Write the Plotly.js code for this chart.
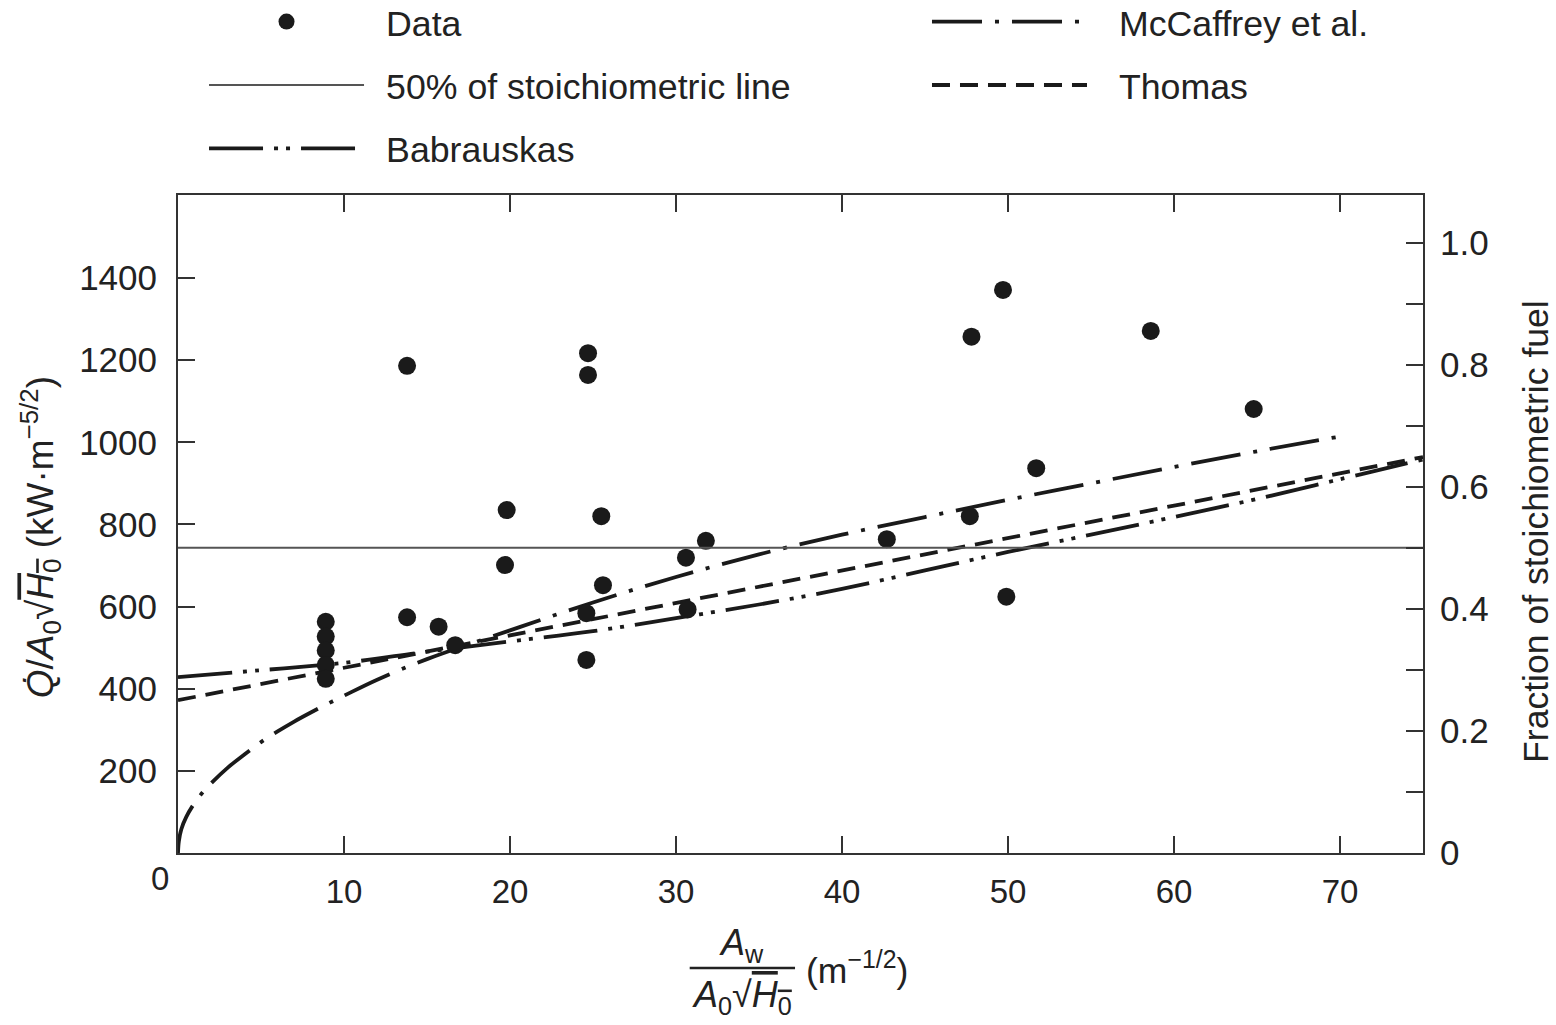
<!DOCTYPE html>
<html>
<head>
<meta charset="utf-8">
<script src="https://cdn.plot.ly/plotly-3.0.1.min.js"></script>
<style>html,body{margin:0;padding:0;background:#fff;} #chart{width:1556px;height:1025px;}</style>
</head>
<body>
<div id="chart"></div>
<script>
// ---- Data ----
const dataX = [8.9, 8.9, 8.9, 8.9, 8.9, 13.8, 13.8, 15.7, 16.7, 19.7, 19.8, 24.6, 24.6, 24.7, 24.7, 25.5, 25.6, 30.6, 30.7, 31.8, 42.7, 47.7, 47.8, 49.7, 49.9, 51.7, 58.6, 64.8];
const dataY = [563, 527, 493, 458, 424, 1186, 574, 551, 506, 701, 835, 584, 470, 1217, 1164, 820, 652, 719, 593, 760, 764, 820, 1257, 1371, 624, 937, 1271, 1081];

const mccX = [0, 0.05, 0.2, 0.5, 1, 1.5, 2, 3, 4, 5, 6, 7, 8, 9, 10, 12, 15, 20, 25, 30, 35, 40, 45, 50, 55, 60, 65, 70];
const mccY = [0, 28, 58, 88, 122, 148, 170, 208, 240, 270, 296, 320, 342, 363, 383, 422, 472, 542, 610, 672, 727, 775, 818, 860, 900, 940, 978, 1014];

const thomasX = [0, 75];
const thomasY = [372, 964];

const babX = [0, 5, 10, 15, 20, 25, 30, 35, 40, 45, 50, 55, 60, 65, 70, 75];
const babY = [428, 445, 463, 490, 515, 540, 572, 605, 643, 688, 733, 775, 818, 862, 910, 958];

const stoichX = [0, 75];
const stoichFrac = [0.5, 0.5];

const xTicks = [10, 20, 30, 40, 50, 60, 70];
const yTicks = [200, 400, 600, 800, 1000, 1200, 1400];
const y2Ticks = [0, 0.1, 0.2, 0.3, 0.4, 0.5, 0.6, 0.7, 0.8, 0.9, 1.0];
const y2Text = ['0', '', '0.2', '', '0.4', '', '0.6', '', '0.8', '', '1.0'];

// ---- Styling ----
const INK = '#1a1a1a';
const AX = '#333333';
const FONT = 'Liberation Sans, Arial, Helvetica, sans-serif';
const GAP1 = '\u00A0\u2009';
const GAP2 = '\u00A0\u00A0\u2009';

const traces = [
  {
    x: stoichX, y: stoichFrac, yaxis: 'y2', mode: 'lines', name: GAP1 + '50% of stoichiometric line',
    line: {color: '#555555', width: 2}, legend: 'legend', legendgroup: 'g2', legendrank: 2, hoverinfo: 'skip'
  },
  {
    x: babX, y: babY, mode: 'lines', name: GAP1 + 'Babrauskas',
    line: {color: INK, width: 3.8, dash: '54px,11px,4px,8px,4px,11px', shape: 'spline'},
    legend: 'legend', legendgroup: 'g3', legendrank: 3
  },
  {
    x: mccX, y: mccY, mode: 'lines', name: GAP2 + 'McCaffrey et al.',
    line: {color: INK, width: 3.8, dash: '50px,13px,4px,13px', shape: 'spline'},
    legend: 'legend2', legendgroup: 'g4', legendrank: 4
  },
  {
    x: thomasX, y: thomasY, mode: 'lines', name: GAP2 + 'Thomas',
    line: {color: INK, width: 3.8, dash: '18px,10px'},
    legend: 'legend2', legendgroup: 'g5', legendrank: 5
  },
  {
    x: dataX, y: dataY, mode: 'markers', name: GAP1 + 'Data',
    marker: {color: INK, size: 18},
    legend: 'legend', legendgroup: 'g1', legendrank: 1
  }
];

const axisCommon = {
  showgrid: false, zeroline: false, showline: true, linecolor: AX, linewidth: 2,
  ticks: 'inside', ticklen: 17, tickwidth: 2, tickcolor: AX,
  tickfont: {family: FONT, size: 35, color: '#222'}
};

const legendCommon = {
  y: 1.3087, xanchor: 'left', yanchor: 'top',
  font: {family: FONT, size: 35.7, color: '#222'},
  itemwidth: 155, tracegroupgap: 14, traceorder: 'grouped',
  bgcolor: 'rgba(0,0,0,0)', borderwidth: 0
};

const layout = {
  width: 1556, height: 1025,
  margin: {l: 178, r: 133, t: 195, b: 172, pad: 0, autoexpand: false},
  paper_bgcolor: '#ffffff', plot_bgcolor: '#ffffff',
  font: {family: FONT, color: '#222'},
  xaxis: Object.assign({}, axisCommon, {
    range: [0, 75], tickvals: xTicks, mirror: 'ticks', ticklabelstandoff: 8,
    tickfont: {family: FONT, size: 33, color: '#222'}
  }),
  yaxis: Object.assign({}, axisCommon, {
    range: [0, 1602], tickvals: yTicks, ticklabelstandoff: 12
  }),
  yaxis2: Object.assign({}, axisCommon, {
    overlaying: 'y', side: 'right', range: [0, 1602 / 1486],
    tickvals: y2Ticks, ticktext: y2Text, ticklabelstandoff: 8
  }),
  legend: Object.assign({}, legendCommon, {x: 0.0209}),
  legend2: Object.assign({}, legendCommon, {x: 0.6016}),
  annotations: [
    {xref: 'x', yref: 'y', x: 0, y: 0, text: '0', showarrow: false, xanchor: 'center', yanchor: 'middle',
     xshift: -18, yshift: -25, font: {family: FONT, size: 33, color: '#222'}},
    {xref: 'paper', yref: 'paper', x: -0.1108, y: 0.48, xanchor: 'center', yanchor: 'middle',
     textangle: -90, showarrow: false,
     text: "<i>Q\u0307</i>/<i>A</i><sub>0</sub>\u221A<span style='text-decoration:overline'><i>H</i><sub>0</sub></span> (kW\u00B7m<sup>\u22125/2</sup>)",
     font: {family: FONT, size: 37, color: '#222'}},
    {xref: 'paper', yref: 'paper', x: 1.0908, y: 0.488, xanchor: 'center', yanchor: 'middle',
     textangle: -90, showarrow: false,
     text: 'Fraction of stoichiometric fuel',
     font: {family: FONT, size: 35.6, color: '#222'}},
    {xref: 'paper', yref: 'paper', x: 0.453, y: -0.1398, xanchor: 'center', yanchor: 'middle', showarrow: false,
     text: '<i>A</i><sub>w</sub>', font: {family: FONT, size: 36, color: '#222'}},
    {xref: 'paper', yref: 'paper', x: 0.453, y: -0.2188, xanchor: 'center', yanchor: 'middle', showarrow: false,
     text: "<i>A</i><sub>0</sub>\u221A<span style='text-decoration:overline'><i>H</i><sub>0</sub></span>",
     font: {family: FONT, size: 36, color: '#222'}},
    {xref: 'paper', yref: 'paper', x: 0.5455, y: -0.1748, xanchor: 'center', yanchor: 'middle', showarrow: false,
     text: '(m<sup>\u22121/2</sup>)', font: {family: FONT, size: 35.5, color: '#222'}}
  ],
  shapes: [
    {type: 'line', xref: 'paper', yref: 'paper', x0: 0.411, x1: 0.4956, y0: -0.1748, y1: -0.1748,
     line: {color: '#222', width: 2.5}}
  ]
};

Plotly.newPlot('chart', traces, layout, {displayModeBar: false, staticPlot: true});
</script>
</body>
</html>
